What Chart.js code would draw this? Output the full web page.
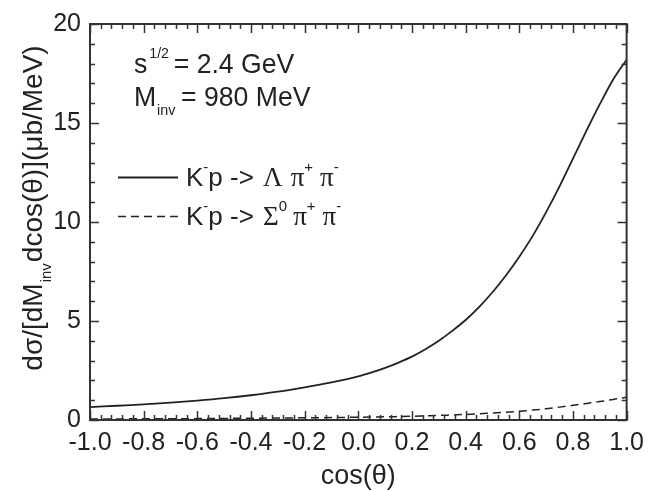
<!DOCTYPE html>
<html>
<head>
<meta charset="utf-8">
<script src="https://cdn.jsdelivr.net/npm/chart.js@4.4.1/dist/chart.umd.min.js"></script>
<style>
  html, body { margin: 0; padding: 0; background: #fff; }
  #wrap { width: 652px; height: 491px; }
</style>
</head>
<body>
<div id="wrap"><canvas id="xsChart" width="652" height="491"></canvas></div>
<script>
// dados
const cosTheta = [-1.0, -0.9, -0.8, -0.7, -0.6, -0.5, -0.4, -0.3, -0.2, -0.1,
  0.0, 0.05, 0.1, 0.15, 0.2, 0.25, 0.3, 0.35, 0.4, 0.45, 0.5, 0.55, 0.6, 0.65, 0.7, 0.75, 0.8, 0.85, 0.9, 0.95, 1.0];
const lambdaPiPi = [0.65, 0.72, 0.79, 0.88, 0.98, 1.1, 1.25, 1.43, 1.65, 1.9,
  2.2, 2.4, 2.63, 2.9, 3.2, 3.57, 4.0, 4.5, 5.05, 5.7, 6.45, 7.3, 8.25, 9.3, 10.5, 11.8, 13.2, 14.6, 15.95, 17.2, 18.2];
const sigmaPiPi = [0.05, 0.055, 0.06, 0.065, 0.07, 0.08, 0.09, 0.1, 0.11, 0.12,
  0.14, 0.15, 0.16, 0.175, 0.19, 0.21, 0.23, 0.255, 0.28, 0.31, 0.35, 0.39, 0.44, 0.5, 0.57, 0.65, 0.74, 0.83, 0.93, 1.04, 1.15];
const xTickStep = 0.2;
const yTickStep = 5;

const INK = "#222";
const SANS = "'Liberation Sans', Arial, sans-serif";
const SERIF = "'Liberation Serif', 'Times New Roman', serif";

const toPoints = (xs, ys) => xs.map((v, i) => ({ x: v, y: ys[i] }));

// texto com sobrescritos/subscritos (sx comprime na horizontal)
const richWidth = (ctx, parts) => parts.reduce((w, p) => {
  ctx.font = p.font;
  return w + ctx.measureText(p.t).width + (p.gap || 0);
}, 0);

const drawRich = (ctx, x, y, parts, sx = 1) => {
  ctx.save();
  ctx.translate(x, y);
  ctx.scale(sx, 1);
  let cx = 0;
  parts.forEach(p => {
    ctx.font = p.font;
    ctx.fillText(p.t, cx, p.dy || 0);
    cx += ctx.measureText(p.t).width + (p.gap || 0);
  });
  ctx.restore();
};

const big = `28px ${SANS}`;
const mid = `26px ${SANS}`;
const small = `15px ${SANS}`;
const greek = `27px ${SERIF}`;

const decorPlugin = {
  id: "decor",
  afterDatasetsDraw(chart) {
    const { ctx, chartArea: a, scales: { x, y } } = chart;
    ctx.save();
    ctx.strokeStyle = "#333";
    ctx.lineWidth = 2;
    ctx.strokeRect(a.left, a.top, a.right - a.left, a.bottom - a.top);

    // ticks para dentro nos quatro lados
    ctx.lineWidth = 1.5;
    ctx.beginPath();
    for (let i = 0; i <= 50; i++) {
      const px = Math.round(x.getPixelForValue(-1 + i * 0.04)) + 0.5;
      const len = i % 5 === 0 ? 9 : 5;
      ctx.moveTo(px, a.bottom); ctx.lineTo(px, a.bottom - len);
      ctx.moveTo(px, a.top); ctx.lineTo(px, a.top + len);
    }
    for (let v = 0; v <= 20; v++) {
      const py = Math.round(y.getPixelForValue(v)) + 0.5;
      const len = v % 5 === 0 ? 9 : 5;
      ctx.moveTo(a.left, py); ctx.lineTo(a.left + len, py);
      ctx.moveTo(a.right, py); ctx.lineTo(a.right - len, py);
    }
    ctx.stroke();

    ctx.fillStyle = INK;
    ctx.textBaseline = "alphabetic";
    ctx.textAlign = "left";

    // anotação
    drawRich(ctx, 134, 73, [
      { t: "s", font: big, gap: 2 },
      { t: "1/2", font: small, dy: -15, gap: 5 },
      { t: "= 2.4 GeV", font: big }
    ], 0.95);
    drawRich(ctx, 134, 106, [
      { t: "M", font: big, gap: 1 },
      { t: "inv", font: small, dy: 9, gap: 6 },
      { t: "= 980 MeV", font: big }
    ], 0.95);

    // legenda
    ctx.lineWidth = 1.8;
    ctx.strokeStyle = INK;
    ctx.beginPath();
    ctx.moveTo(118, 177.5); ctx.lineTo(178, 177.5);
    ctx.stroke();
    ctx.setLineDash([8, 5]);
    ctx.lineWidth = 1.5;
    ctx.beginPath();
    ctx.moveTo(118, 216.5); ctx.lineTo(178, 216.5);
    ctx.stroke();
    ctx.setLineDash([]);

    drawRich(ctx, 186, 186, [
      { t: "K", font: mid },
      { t: "-", font: small, dy: -14 },
      { t: "p -> ", font: mid, gap: 2 },
      { t: "Λ", font: greek, gap: 8 },
      { t: "π", font: greek },
      { t: "+", font: small, dy: -14, gap: 7 },
      { t: "π", font: greek },
      { t: "-", font: small, dy: -14 }
    ]);
    drawRich(ctx, 186, 225, [
      { t: "K", font: mid },
      { t: "-", font: small, dy: -14 },
      { t: "p -> ", font: mid, gap: 2 },
      { t: "Σ", font: greek },
      { t: "0", font: small, dy: -14, gap: 6 },
      { t: "π", font: greek },
      { t: "+", font: small, dy: -14, gap: 7 },
      { t: "π", font: greek },
      { t: "-", font: small, dy: -14 }
    ]);

    // título do eixo x
    ctx.font = `27px ${SANS}`;
    ctx.textAlign = "center";
    ctx.fillText("cos(θ)", (a.left + a.right) / 2, 484);

    // título do eixo y (girado)
    const yParts = [
      { t: "dσ/[dM", font: big, gap: 1 },
      { t: "inv", font: small, dy: 9, gap: 1 },
      { t: "dcos(θ)](μb/MeV)", font: big }
    ];
    ctx.textAlign = "left";
    const w = richWidth(ctx, yParts);
    ctx.translate(42, 208);
    ctx.rotate(-Math.PI / 2);
    drawRich(ctx, -w / 2, 0, yParts);
    ctx.restore();
  }
};

const chart = new Chart(document.getElementById("xsChart"), {
  type: "scatter",
  data: {
    datasets: [
      {
        label: "K-p -> Λ π+ π-",
        data: toPoints(cosTheta, lambdaPiPi),
        showLine: true,
        borderColor: INK,
        borderWidth: 1.8,
        pointRadius: 0,
        cubicInterpolationMode: "monotone"
      },
      {
        label: "K-p -> Σ0 π+ π-",
        data: toPoints(cosTheta, sigmaPiPi),
        showLine: true,
        borderColor: INK,
        borderWidth: 1.5,
        borderDash: [8, 5],
        pointRadius: 0,
        cubicInterpolationMode: "monotone"
      }
    ]
  },
  options: {
    responsive: false,
    animation: false,
    layout: { autoPadding: false, padding: { top: 22, right: 17, left: 0, bottom: 0 } },
    plugins: { legend: { display: false }, tooltip: { enabled: false } },
    scales: {
      x: {
        type: "linear",
        min: -1,
        max: 1,
        grid: { display: false, drawTicks: false },
        border: { display: false },
        ticks: {
          stepSize: xTickStep,
          color: INK,
          padding: 8,
          font: { family: SANS, size: 25 },
          callback: v => v.toFixed(1)
        },
        afterFit: s => { s.height = 71; }
      },
      y: {
        min: 0,
        max: 20,
        grid: { display: false, drawTicks: false },
        border: { display: false },
        ticks: {
          stepSize: yTickStep,
          color: INK,
          padding: 9,
          font: { family: SANS, size: 25 }
        },
        afterFit: s => { s.width = 90; }
      }
    }
  },
  plugins: [decorPlugin]
});
</script>
</body>
</html>
